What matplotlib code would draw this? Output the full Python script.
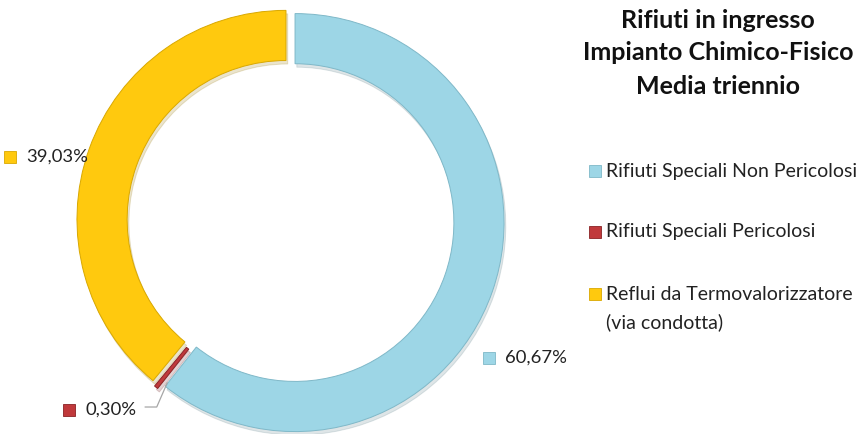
import numpy as np
import matplotlib
matplotlib.use("Agg")
import matplotlib.pyplot as plt
from matplotlib.patches import Rectangle

plt.rcParams['font.family'] = ['Lato', 'DejaVu Sans']

# data
categories = ["Rifiuti Speciali Non Pericolosi",
              "Rifiuti Speciali Pericolosi",
              "Reflui da Termovalorizzatore\n(via condotta)"]
values = [60.67, 0.30, 39.03]
colors_ = ["#9dd6e6", "#c0393b", "#ffc90e"]
edges = ["#7fb8c8", "#8a2224", "#d9a800"]
title_lines = ["Rifiuti in ingresso", "Impianto Chimico-Fisico", "Media triennio"]

W, H = 857, 434
fig = plt.figure(figsize=(W / 100, H / 100), dpi=100)

# pie axes, square, centred on the ring
R_PX = 209
S = 440
cx, cy = 290.5, H - 221
ax = fig.add_axes([(cx - S / 2) / W, (cy - S / 2) / H, S / W, S / H])

wedges, _ = ax.pie(values, colors=colors_, startangle=90, counterclock=False,
                   explode=[0.023] * 3, radius=1.0,
                   wedgeprops=dict(width=0.24, linewidth=0.7),
                   shadow=dict(ox=0.006, oy=-0.012, shade=0.4, alpha=0.2))
for w, ec in zip(wedges, edges):
    w.set_edgecolor(ec)

# pie() resets the limits, so set them afterwards
L = S / 2 / R_PX
ax.set_xlim(-L, L)
ax.set_ylim(-L, L)
ax.set_aspect("equal")
ax.axis("off")


def pct(v):
    return f"{v:.2f}".replace(".", ",") + "%"


# data labels
label_pos = [(1.175, -0.655), (-0.859, -0.904), (-1.117, 0.306)]
mark_dx = [-0.225, -0.2, -0.225]
for v, c, ec, (tx, ty), mdx in zip(values, colors_, edges, label_pos, mark_dx):
    ax.text(tx, ty, pct(v), ha="center", va="center", fontsize=13.3, color="#222222")
    ax.plot(tx + mdx, ty, marker="s", ms=8,
            color=c, markeredgecolor=ec, markeredgewidth=0.6, clip_on=False)

# leader line for the small slice
ax.plot([-0.695, -0.64, -0.59], [-0.89, -0.89, -0.775], color="#a6a6a6", lw=0.9)

# title
for i, line in enumerate(title_lines):
    fig.text(718 / W, 1 - (20 + 33 * i) / H, line, ha="center", va="center",
             fontsize=18, fontweight="bold", color="#111111")

# legend
leg_y = [171, 232, 294]
for name, c, ec, y in zip(categories, colors_, edges, leg_y):
    lines = name.split("\n")
    for j, ln in enumerate(lines):
        fig.text(606 / W, 1 - (y + 28 * j) / H, ln, ha="left", va="center",
                 fontsize=14, color="#222222")
    fig.patches.append(Rectangle((589 / W, 1 - (y + 6) / H), 12 / W, 12 / H,
                                 transform=fig.transFigure, facecolor=c,
                                 edgecolor=ec, linewidth=0.6))

fig.savefig("out.png", dpi=100)
